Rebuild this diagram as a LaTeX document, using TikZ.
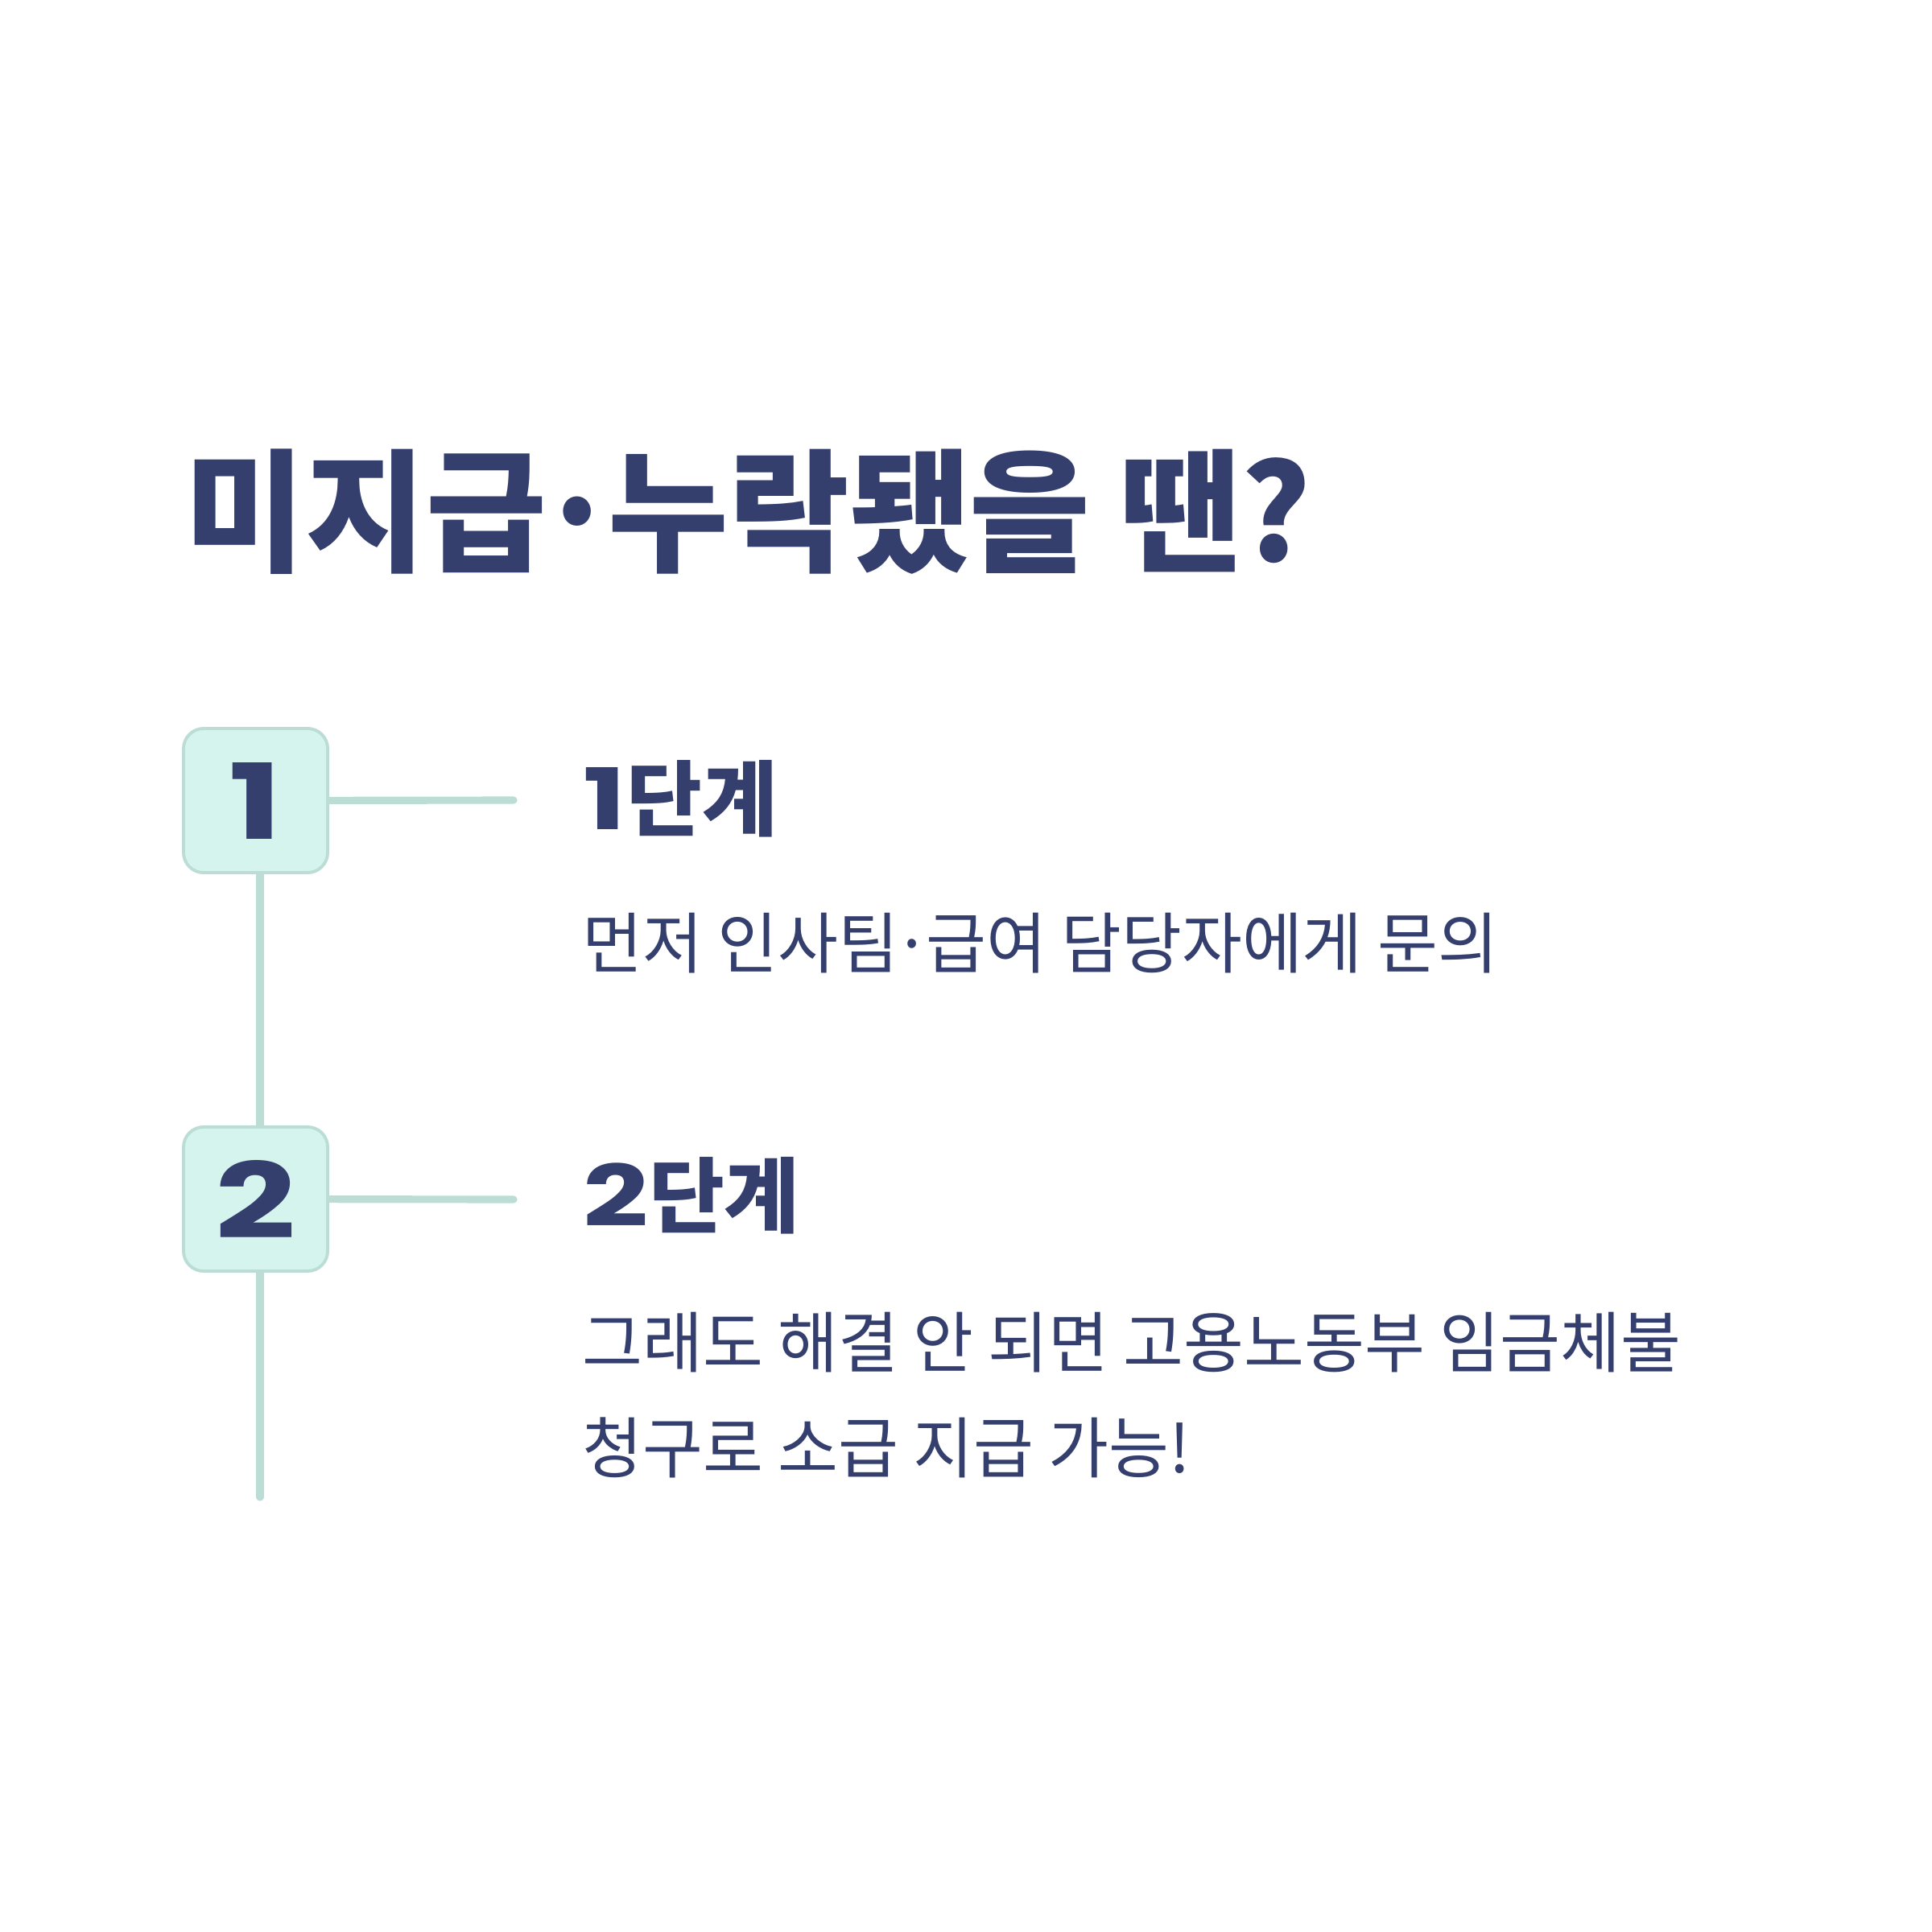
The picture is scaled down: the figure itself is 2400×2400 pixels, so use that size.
\documentclass[tikz,border=0pt]{standalone}
\usepackage{fontspec}
\setmainfont{Noto Sans CJK KR}[FakeStretch=0.985]
\newfontfamily\headfont{Noto Sans CJK KR}[FakeStretch=1.0]
\newfontfamily\numfont{Poppins}[FakeStretch=1.35]
\newcommand\sepdot{\kern-0.07em·\kern-0.07em}
\usetikzlibrary{positioning,backgrounds}
\definecolor{navy}{HTML}{343F6E}
\definecolor{mintfill}{HTML}{D6F4EE}
\definecolor{mintline}{HTML}{BCDCD6}

\begin{document}
\begin{tikzpicture}[x=0.01cm, y=-0.01cm,
	every node/.style={inner sep=0pt, text=navy},
	stepbox/.style={draw=mintline, fill=mintfill, line width=1.1pt, rounded corners=0.25cm, minimum size=1.79cm, font=\numfont\bfseries\fontsize{37}{37}\selectfont},
	heading/.style={anchor=north west, font=\headfont\bfseries\fontsize{29}{29}\selectfont},
	bodytext/.style={anchor=north west, align=left, font=\fontsize{23.5}{37.3}\selectfont},
	rail/.style={draw=mintline, line width=2.6pt, line cap=round}]
	\useasboundingbox (0,0) rectangle (2400,2400);
	\node[anchor=north west, font=\bfseries\fontsize{47}{47}\selectfont] (title) at (229,557) {미지급\sepdot 누락됐을 땐?};
	% steps
	\node[stepbox] (box1) at (317.5,994.5) {1};
	\node[stepbox] (box2) at (317.5,1489.5) {2};
	\node[heading] (head1) at (724,944) {{\numfont\fontsize{30}{30}\selectfont 1}단계};
	\node[bodytext] (body1) at (723,1133) {먼저 인사팀\sepdot 급여 담당자에게 문의};
	\node[heading] (head2) at (724,1437) {{\numfont\fontsize{30}{30}\selectfont 2}단계};
	\node[bodytext] (body2) at (723,1629) {그래도 해결 안 되면 고용노동부 임금체불\\청구로 소급 지급 가능!};
	\coordinate (tail) at (323,1860);
	\coordinate (arm1) at (638,994);
	\coordinate (arm2) at (638,1490);
	\begin{pgfonlayer}{background}
		\draw[rail] (box1.center -| tail) -- (tail);
		\draw[rail] (box1) -- (arm1);
		\draw[rail] (box2) -- (arm2);
	\end{pgfonlayer}
\end{tikzpicture}
\end{document}
